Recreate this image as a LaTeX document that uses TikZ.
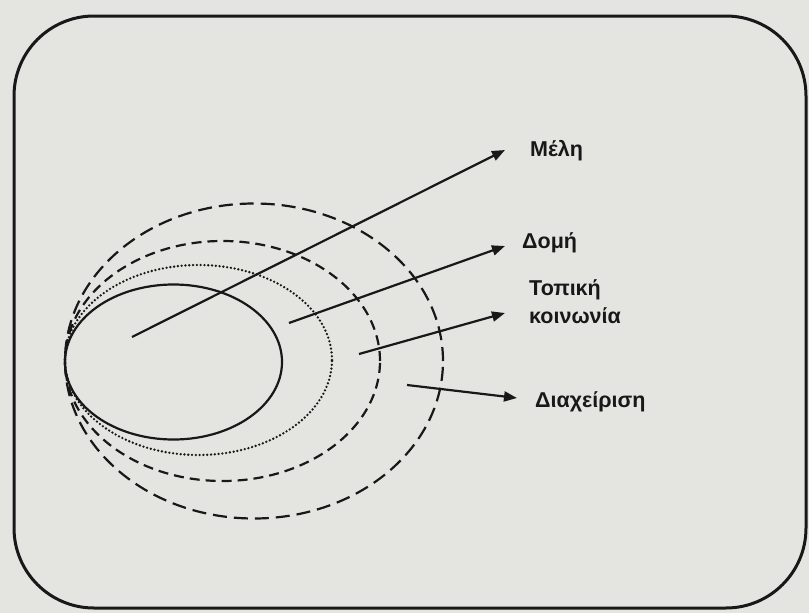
\documentclass[tikz,border=0pt]{standalone}
\usepackage{fontspec}
\setmainfont{Liberation Sans}
\usetikzlibrary{arrows.meta}
\definecolor{paper}{RGB}{228,228,225}
\definecolor{ink}{RGB}{24,24,24}
\tikzset{
  frame/.style={draw=ink, line width=3pt, rounded corners=80pt},
  ell/.style={draw=ink, line width=2.2pt},
  bigdash/.style={ell, dash pattern=on 14pt off 7pt},
  smalldash/.style={ell, dash pattern=on 10pt off 6pt},
  dotline/.style={draw=ink, line width=2.6pt, line cap=round, dash pattern=on 0pt off 3.8pt},
  arr/.style={draw=ink, line width=2.2pt, -{Triangle[length=13pt,width=10pt]}},
  lbl/.style={font=\bfseries\fontsize{21.5}{28}\selectfont, text=ink, inner sep=0pt, align=left}
}
\begin{document}
\begin{tikzpicture}[x=1pt,y=-1pt]
\fill[paper] (0,0) rectangle (809,613);
\useasboundingbox (0,0) rectangle (809,613);
\draw[frame] (14,16) rectangle (806,608);
% nested ellipses, all tangent at the left point (65,361)
\draw[bigdash]   (254,361)   ellipse [x radius=189pt,   y radius=157.5pt];
\draw[smalldash] (222.5,361) ellipse [x radius=157.5pt, y radius=120pt];
\draw[dotline]   (198.5,360) ellipse [x radius=133.5pt, y radius=95pt];
\draw[ell]       (173.5,362) ellipse [x radius=108.5pt, y radius=77.5pt];
% labels
\node[lbl, anchor=base west] (meli) at (530,156) {Μέλη};
\node[lbl, anchor=base west] (domi) at (522,248) {Δομή};
\node[lbl, anchor=base west] (topiki) at (529,323) {Τοπική\\κοινωνία};
\node[lbl, anchor=base west] (diax) at (535,407) {Διαχείριση};
% arrow ends
\coordinate (s1) at (132,337); \coordinate (t1) at (505,150);
\coordinate (s2) at (289,323); \coordinate (t2) at (505,246);
\coordinate (s3) at (359,354); \coordinate (t3) at (505,313);
\coordinate (s4) at (407,385); \coordinate (t4) at (517,398);
\draw[arr] (s1) -- (t1);
\draw[arr] (s2) -- (t2);
\draw[arr] (s3) -- (t3);
\draw[arr] (s4) -- (t4);
\end{tikzpicture}
\end{document}
